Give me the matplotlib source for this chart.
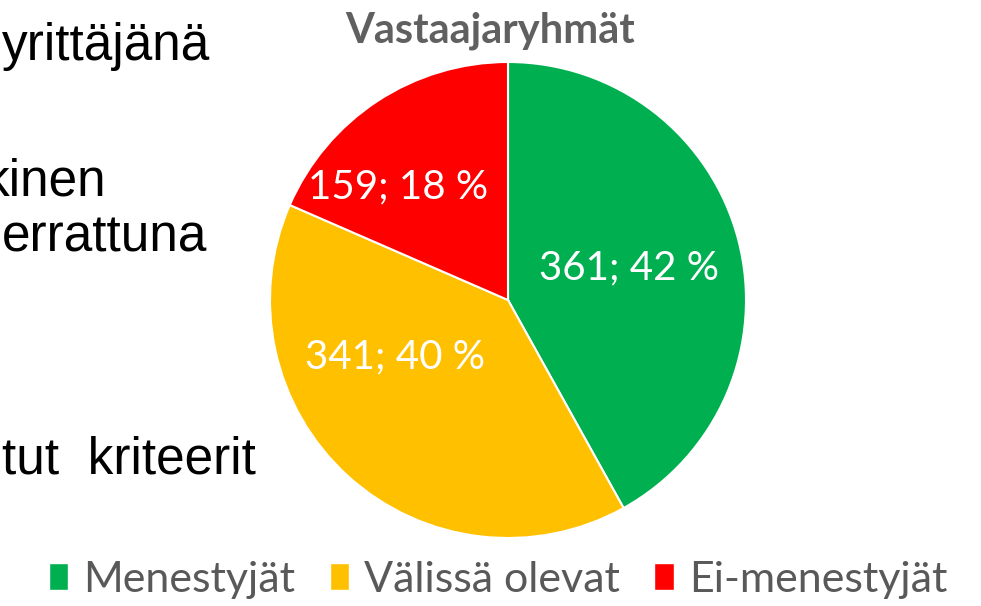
import matplotlib
matplotlib.use("Agg")
import matplotlib.pyplot as plt
from matplotlib.patches import Patch

# data
groups = ["Menestyjät", "Välissä olevat", "Ei-menestyjät"]
counts = [361, 341, 159]
colors = ["#00B050", "#FFC000", "#FF0000"]
title = "Vastaajaryhmät"

# leftover slide text (cut off at the left edge)
side_text = ["yrittäjänä", "kinen", "errattuna", "tut  kriteerit"]
side_right = [210, 106, 207, 256]
side_base = [60, 196, 252, 474]

# label positions inside the wedges (axes data units, excel places them by hand)
label_pos = [(0.51, 0.135), (-0.475, -0.24), (-0.46, 0.475)]

W, H = 981, 606
fig = plt.figure(figsize=(W / 100, H / 100), dpi=100)

cx, cy, r = 508, 300, 238
ax = fig.add_axes([(cx - r) / W, (H - cy - r) / H, 2 * r / W, 2 * r / H])
wedges, _ = ax.pie(counts, colors=colors, startangle=90, counterclock=False,
                   radius=1, wedgeprops=dict(edgecolor="white", linewidth=1.5))
ax.set_xlim(-1, 1)
ax.set_ylim(-1, 1)
ax.set_aspect("equal")
ax.axis("off")

total = sum(counts)
for v, (x, y) in zip(counts, label_pos):
    ax.text(x, y, f"{v}; {round(100 * v / total)} %", color="white",
            fontsize=29, family="Lato", ha="center", va="center")

fig.text(490 / W, 1 - 31 / H, title, color="#606060", fontsize=30,
         family="Lato", fontweight="bold", ha="center", va="center")

for t, xr, yb in zip(side_text, side_right, side_base):
    fig.text(xr / W, 1 - yb / H, t, color="black", fontsize=37,
             family="Liberation Sans", ha="right", va="baseline")

handles = [Patch(facecolor=c, edgecolor="white") for c in colors]
fig.legend(handles, groups, loc="center", bbox_to_anchor=(498 / W, 1 - 580 / H),
           ncol=3, frameon=False, handlelength=0.45, handleheight=0.6,
           handletextpad=0.35, columnspacing=0.8,
           prop=dict(family="Lato", size=31), labelcolor="#595959")

fig.savefig("out.png", dpi=100)
